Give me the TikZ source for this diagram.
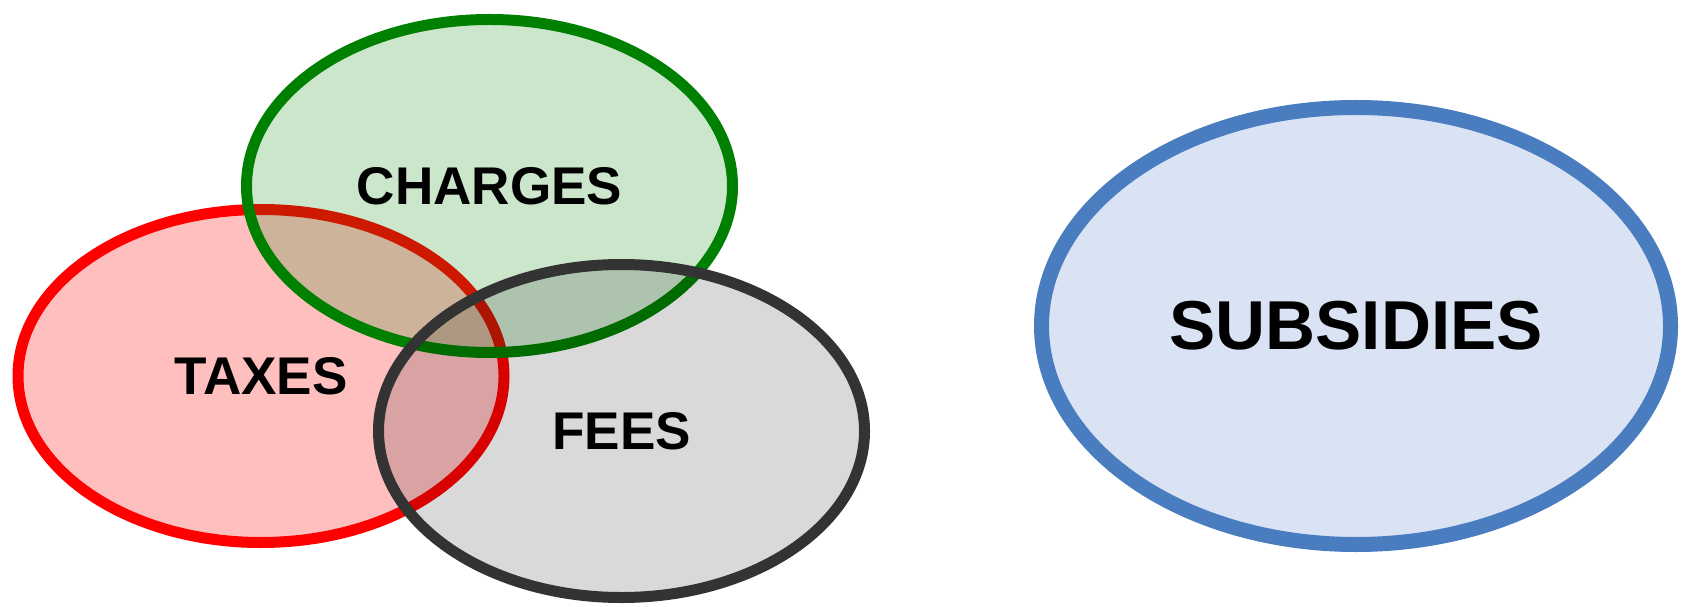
\documentclass[tikz,border=0pt]{standalone}
\usepackage{fontspec}
\setmainfont{Liberation Sans}
\usetikzlibrary{shapes.geometric}
\definecolor{taxred}{RGB}{255,0,0}
\definecolor{chargegreen}{RGB}{0,128,0}
\definecolor{feegray}{RGB}{51,51,51}
\definecolor{subsidyblue}{RGB}{74,124,192}
\definecolor{subsidyfill}{RGB}{218,227,243}
\begin{document}
\begin{tikzpicture}[
   base_node_style/.style={ellipse, inner sep=0pt, text=black, text opacity=1,
      font=\fontsize{15.1}{16}\selectfont\bfseries},
   venn_style/.style={base_node_style, line width=1.1mm, minimum width=48.6mm, minimum height=33.3mm},
   taxes_style/.style={venn_style, draw=taxred, fill=taxred, fill opacity=0.25},
   charges_style/.style={venn_style, draw=chargegreen, fill=chargegreen, fill opacity=0.2},
   fees_style/.style={venn_style, draw=feegray, fill=black, fill opacity=0.15},
   subsidies_style/.style={base_node_style, line width=1.5mm, draw=subsidyblue, fill=subsidyfill,
      minimum width=62.9mm, minimum height=43.7mm, font=\fontsize{19.7}{22}\selectfont\bfseries}]

    \useasboundingbox (0,0) rectangle (16.81,6.06);

    \node[taxes_style] (taxes) at (2.61,2.30) {TAXES};
    \node[charges_style] (charges) at (4.895,4.20) {CHARGES};
    \node[fees_style] (fees) at (6.215,1.75) {FEES};
    \node[subsidies_style] (subsidies) at (13.56,2.80) {SUBSIDIES};
\end{tikzpicture}
\end{document}
